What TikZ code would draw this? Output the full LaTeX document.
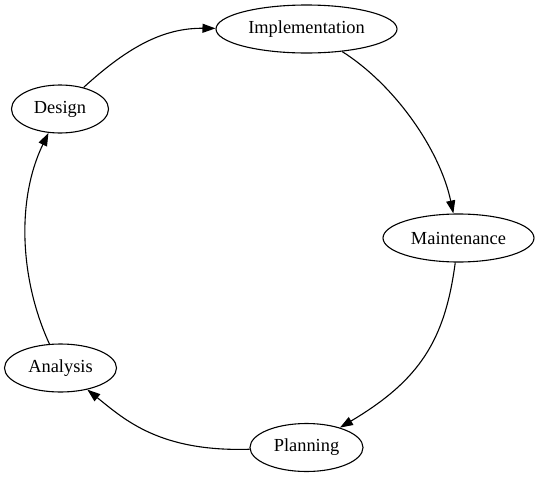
\documentclass[tikz,border=0pt]{standalone}
\usepackage{fontspec}
\setmainfont{Liberation Serif}
\usepackage{tikz}
\usetikzlibrary{arrows.meta,shapes.geometric}

\begin{document}
\begin{tikzpicture}[-{Triangle[length=13pt,width=9pt]},line width=1.1pt,x=1pt,y=-1pt]
      \tikzstyle{every node}=[draw,shape=ellipse,inner sep=0pt,minimum height=48pt,font=\fontsize{18.4}{22}\selectfont]

      \useasboundingbox (0,0) rectangle (539,477);

      \node[minimum width=181pt] (impl) at (306.5,29) {Implementation};
      \node[minimum width=97pt] (design) at (60,109) {Design};
      \node[minimum width=151pt] (maint) at (458.5,238) {Maintenance};
      \node[minimum width=112pt] (analysis) at (60.5,368) {Analysis};
      \node[minimum width=113pt] (plan) at (306.5,447.5) {Planning};

      \draw (design) .. controls (130,45) and (165,28) .. (impl);
      \draw (impl) .. controls (395,85) and (440,150) .. (maint);
      \draw (maint) .. controls (445,340) and (420,380) .. (plan);
      \draw (plan) .. controls (160,452) and (125,420) .. (analysis);
      \draw (analysis) .. controls (20,280) and (16,200) .. (design);

    \end{tikzpicture}
\end{document}
